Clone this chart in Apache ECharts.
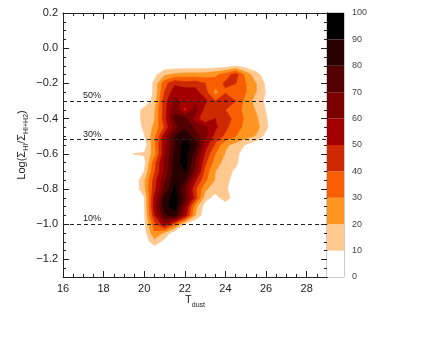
<!DOCTYPE html>
<html><head><meta charset="utf-8">
<script src="https://cdn.jsdelivr.net/npm/echarts@6/dist/echarts.min.js"></script>
<style>html,body{margin:0;padding:0;background:#fff}#c{width:440px;height:340px}</style>
</head><body><div id="c"></div>
<script>
// grid of dust temperatures (columns)
const tdust = [19.0, 19.5, 20.0, 20.5, 21.0, 21.5, 22.0, 22.5, 23.0, 23.5, 24.0, 24.5, 25.0, 25.5, 26.0, 26.5];
// grid of log ratios (rows, top to bottom)
const logRatio = [-0.05, -0.10, -0.15, -0.20, -0.25, -0.30, -0.35, -0.40, -0.45, -0.50, -0.55, -0.60,
                  -0.65, -0.70, -0.75, -0.80, -0.85, -0.90, -0.95, -1.00, -1.05, -1.10, -1.15, -1.20];
// density (percent of max) at each grid node
const density = [
  [0,0,0,0,0,0,0,0,0,0,0,0,0,0,0,0],
  [0,0,0,0,3,3,3,3,3,3,4,9,5,2,0,0],
  [0,0,0,7,18,22,24,24,24,28,34,45,26,14,4,0],
  [0,0,0,12,36,48,44,46,40,34,42,40,30,20,8,0],
  [0,0,0,12,40,56,56,54,44,26,38,36,30,20,9,0],
  [0,0,2,14,45,63,57,58,52,40,51,40,26,16,8,0],
  [0,4,13,18,45,68,46,64,46,46,40,34,27,19,9,0],
  [0,5,13,19,46,72,74,56,40,50,45,36,28,22,11,0],
  [0,3,12,22,41,66,78,68,62,52,42,34,27,24,12,0],
  [0,0,9,26,55,80,88,75,63,46,38,30,24,19,6,0],
  [0,0,4,27,57,79,95,85,55,38,22,16,9,2,0,0],
  [0,10.4,11,24,58,82,94,76,48,30,19,13,4,0,0,0],
  [0,1,6,36,62,84,95,70,42,25,16,12,3,0,0,0],
  [0,1,10,38,62,84,90,66,36,20,14,8,0,0,0,0],
  [0,2,18,44,68,88,80,52,32,19,13,5,0,0,0,0],
  [0,2,17,46,72,92,70,42,22,14,12,2,0,0,0,0],
  [0,0,9,52,83,95,75,45,14,6,15,4,0,0,0,0],
  [0,0,8,55,86,96,62,24,5,0,3,0,0,0,0,0],
  [0,0,8,48,78,84,55,20,3,0,0,0,0,0,0,0],
  [0,0,7,36,56,34,8,0,0,0,0,0,0,0,0,0],
  [0,0,5,28,18,2,0,0,0,0,0,0,0,0,0,0],
  [0,0,3,16,6,0,0,0,0,0,0,0,0,0,0,0],
  [0,0,0,1,0,0,0,0,0,0,0,0,0,0,0,0],
  [0,0,0,0,0,0,0,0,0,0,0,0,0,0,0,0]
];
// contour levels and band colours
const levels = [0, 10, 20, 30, 40, 50, 60, 70, 80, 90, 100];
const levelColors = ['#ffffff', 'rgb(255,201,144)', 'rgb(255,148,33)', 'rgb(248,94,0)', 'rgb(206,41,0)',
                     'rgb(165,0,0)', 'rgb(124,0,0)', 'rgb(83,0,0)', 'rgb(41,0,0)', 'rgb(0,0,0)'];
// reference fractions
const refLines = [-0.301, -0.523, -1.0];
const refLabels = ['50%', '30%', '10%'];

const FONT = 'Liberation Sans, Arial, sans-serif';
const AX = '#222';

function cellsAbove(L) {
  const out = [];
  for (let r = 0; r < logRatio.length - 1; r++) {
    for (let c = 0; c < tdust.length - 1; c++) {
      const m = Math.max(density[r][c], density[r][c+1], density[r+1][c], density[r+1][c+1]);
      if (m >= L) out.push([tdust[c], logRatio[r+1], c, r]);
    }
  }
  return out;
}

function makeRender(k) {
  const L = levels[k];
  return function (params, api) {
    const c = api.value(2), r = api.value(3);
    const x0 = tdust[c], x1 = tdust[c+1], yT = logRatio[r], yB = logRatio[r+1];
    const corners = [[x0, yT, density[r][c]], [x1, yT, density[r][c+1]],
                     [x1, yB, density[r+1][c+1]], [x0, yB, density[r+1][c]]];
    const pts = [];
    for (let e = 0; e < 4; e++) {
      const a = corners[e], b = corners[(e + 1) % 4];
      const ia = a[2] >= L, ib = b[2] >= L;
      if (ia) pts.push(api.coord([a[0], a[1]]));
      if (ia !== ib) {
        const t = (L - a[2]) / (b[2] - a[2]);
        pts.push(api.coord([a[0] + t * (b[0] - a[0]), a[1] + t * (b[1] - a[1])]));
      }
    }
    if (pts.length < 3) return {type: 'group', children: []};
    return {type: 'polygon', silent: true, shape: {points: pts},
      style: {fill: levelColors[k], stroke: levelColors[k], lineWidth: 0.7}};
  };
}

const minorTick = {show: true, inside: true, length: 3, lineStyle: {color: AX, width: 1}};
const majorTick = {show: true, inside: true, length: 6, lineStyle: {color: AX, width: 1}};
const axLine = {show: true, onZero: false, lineStyle: {color: AX, width: 1}};
const noLine = {show: false, onZero: false};
const noLabel = {show: false};
const noSplit = {show: false};
const fmtY = v => (v < -1e-9 ? '\u2212' : '') + Math.abs(v).toFixed(1);
const titleRich = {
  m: {fontSize: 11, color: AX, lineHeight: 14, verticalAlign: 'top', fontFamily: FONT},
  s: {fontSize: 7, color: AX, verticalAlign: 'bottom', fontFamily: FONT}
};

const series = [];
for (let k = 1; k < levels.length - 1; k++) {
  series.push({type: 'custom', coordinateSystem: 'cartesian2d', xAxisIndex: 0, yAxisIndex: 0,
    renderItem: makeRender(k), data: cellsAbove(levels[k]), encode: {x: 0, y: 1}, silent: true, z: 2});
}
series.push({type: 'line', xAxisIndex: 0, yAxisIndex: 0, data: [], silent: true, z: 5,
   markLine: {silent: true, symbol: ['none', 'none'], animation: false,
     lineStyle: {color: AX, width: 1, type: [4, 3]},
     label: {show: true, position: 'insideStartTop', distance: [20, 1], formatter: '{b}',
             color: AX, fontSize: 9, fontFamily: FONT},
     data: refLines.map((v, i) => ({yAxis: v, name: refLabels[i]}))}});
for (let k = 0; k < levelColors.length; k++) {
  series.push({type: 'bar', xAxisIndex: 5, yAxisIndex: 5, stack: 'cb', barWidth: '100%',
    data: [levels[k+1] - levels[k]], itemStyle: {color: levelColors[k]}, silent: true});
}

const option = {
  animation: false,
  backgroundColor: '#fff',
  textStyle: {fontFamily: FONT},
  grid: [
    {left: 63, top: 13, width: 264, height: 264},
    {left: 63, top: 13, width: 264 * 12 / 13, height: 264},
    {left: 63, top: 13, width: 264, height: 264 * 1.4 / 1.5},
    {left: 327, top: 13, width: 17, height: 264, show: true, borderColor: '#999', borderWidth: 1}
  ],
  xAxis: [
    {gridIndex: 0, type: 'value', position: 'bottom', min: 16, max: 29, interval: 0.5,
     axisLine: axLine, axisTick: minorTick, axisLabel: noLabel, splitLine: noSplit,
     name: '{m|T}{s|dust}', nameLocation: 'middle', nameGap: 17.5,
     nameTextStyle: {color: AX, rich: titleRich}},
    {gridIndex: 0, type: 'value', position: 'top', min: 16, max: 29, interval: 0.5,
     axisLine: axLine, axisTick: minorTick, axisLabel: noLabel, splitLine: noSplit},
    {gridIndex: 1, type: 'value', position: 'bottom', min: 16, max: 28, interval: 2,
     axisLine: noLine, axisTick: majorTick, splitLine: noSplit,
     axisLabel: {show: true, margin: 6, fontSize: 11, color: AX, fontFamily: FONT}},
    {gridIndex: 1, type: 'value', position: 'top', min: 16, max: 28, interval: 2,
     axisLine: noLine, axisTick: majorTick, axisLabel: noLabel, splitLine: noSplit},
    {gridIndex: 2, type: 'value', min: 16, max: 29, show: false, axisLine: noLine},
    {gridIndex: 3, type: 'category', data: ['cb'], show: false, axisLine: noLine}
  ],
  yAxis: [
    {gridIndex: 0, type: 'value', position: 'left', min: -1.3, max: 0.2, interval: 0.05,
     axisLine: axLine, axisTick: minorTick, axisLabel: noLabel, splitLine: noSplit,
     name: '{m|Log(\u03A3}{s|HI}{m|/\u03A3}{s|HI+H2}{m|)}', nameLocation: 'middle', nameGap: 33, nameRotate: 90,
     nameTextStyle: {color: AX, rich: titleRich}},
    {gridIndex: 0, type: 'value', position: 'right', min: -1.3, max: 0.2, interval: 0.05,
     axisLine: axLine, axisTick: minorTick, axisLabel: noLabel, splitLine: noSplit},
    {gridIndex: 1, type: 'value', min: -1.3, max: 0.2, show: false, axisLine: noLine},
    {gridIndex: 2, type: 'value', position: 'left', min: -1.2, max: 0.2, interval: 0.2,
     axisLine: noLine, axisTick: majorTick, splitLine: noSplit,
     axisLabel: {show: true, margin: 5, fontSize: 11, color: AX, fontFamily: FONT, formatter: fmtY}},
    {gridIndex: 2, type: 'value', position: 'right', min: -1.2, max: 0.2, interval: 0.2,
     axisLine: noLine, axisTick: majorTick, axisLabel: noLabel, splitLine: noSplit},
    {gridIndex: 3, type: 'value', position: 'right', min: 0, max: 100, interval: 10,
     axisLine: noLine, axisTick: {show: false}, splitLine: noSplit,
     axisLabel: {show: true, margin: 8, fontSize: 9, color: '#444', fontFamily: FONT}}
  ],
  series: series
};

const chart = echarts.init(document.getElementById('c'), null, {renderer: 'canvas'});
chart.setOption(option);
</script>
</body></html>
